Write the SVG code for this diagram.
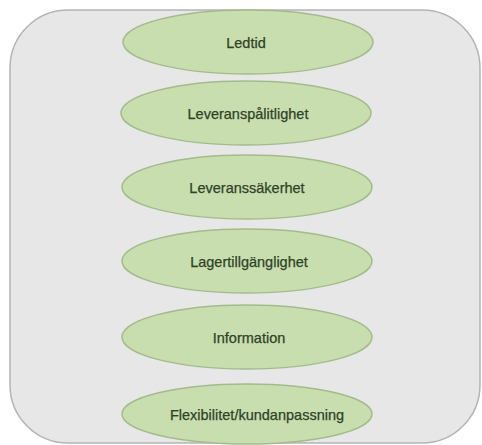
<svg xmlns="http://www.w3.org/2000/svg" width="482" height="445" viewBox="0 0 482 445">
<style>
.bg{fill:#e7e7e7;stroke:#b4b4b4;stroke-width:1.5}
.n ellipse{fill:#c8deaf;stroke:#a3bb8c;stroke-width:1.5}
.n text{font-family:"Liberation Sans",Arial,sans-serif;font-size:14.5px;fill:#2f4226;text-anchor:middle;stroke:#2f4226;stroke-width:0.25}
</style>
<rect width="482" height="445" fill="#ffffff"/>
<rect class="bg" x="10" y="10" width="470" height="433" rx="58" ry="58"/>
<g id="connectors"></g>
<g id="n1" class="n"><ellipse cx="248" cy="42" rx="125" ry="32"/><text x="246" y="48">Ledtid</text></g>
<g id="n2" class="n"><ellipse cx="246" cy="113" rx="125" ry="32"/><text x="248" y="119">Leveranspålitlighet</text></g>
<g id="n3" class="n"><ellipse cx="247" cy="187" rx="125" ry="32"/><text x="247" y="193">Leveranssäkerhet</text></g>
<g id="n4" class="n"><ellipse cx="247" cy="261" rx="125" ry="32"/><text x="249" y="267">Lagertillgänglighet</text></g>
<g id="n5" class="n"><ellipse cx="247" cy="337" rx="125" ry="32"/><text x="249" y="343">Information</text></g>
<g id="n6" class="n"><ellipse cx="247" cy="414" rx="125" ry="30"/><text x="257" y="420">Flexibilitet/kundanpassning</text></g>
</svg>
